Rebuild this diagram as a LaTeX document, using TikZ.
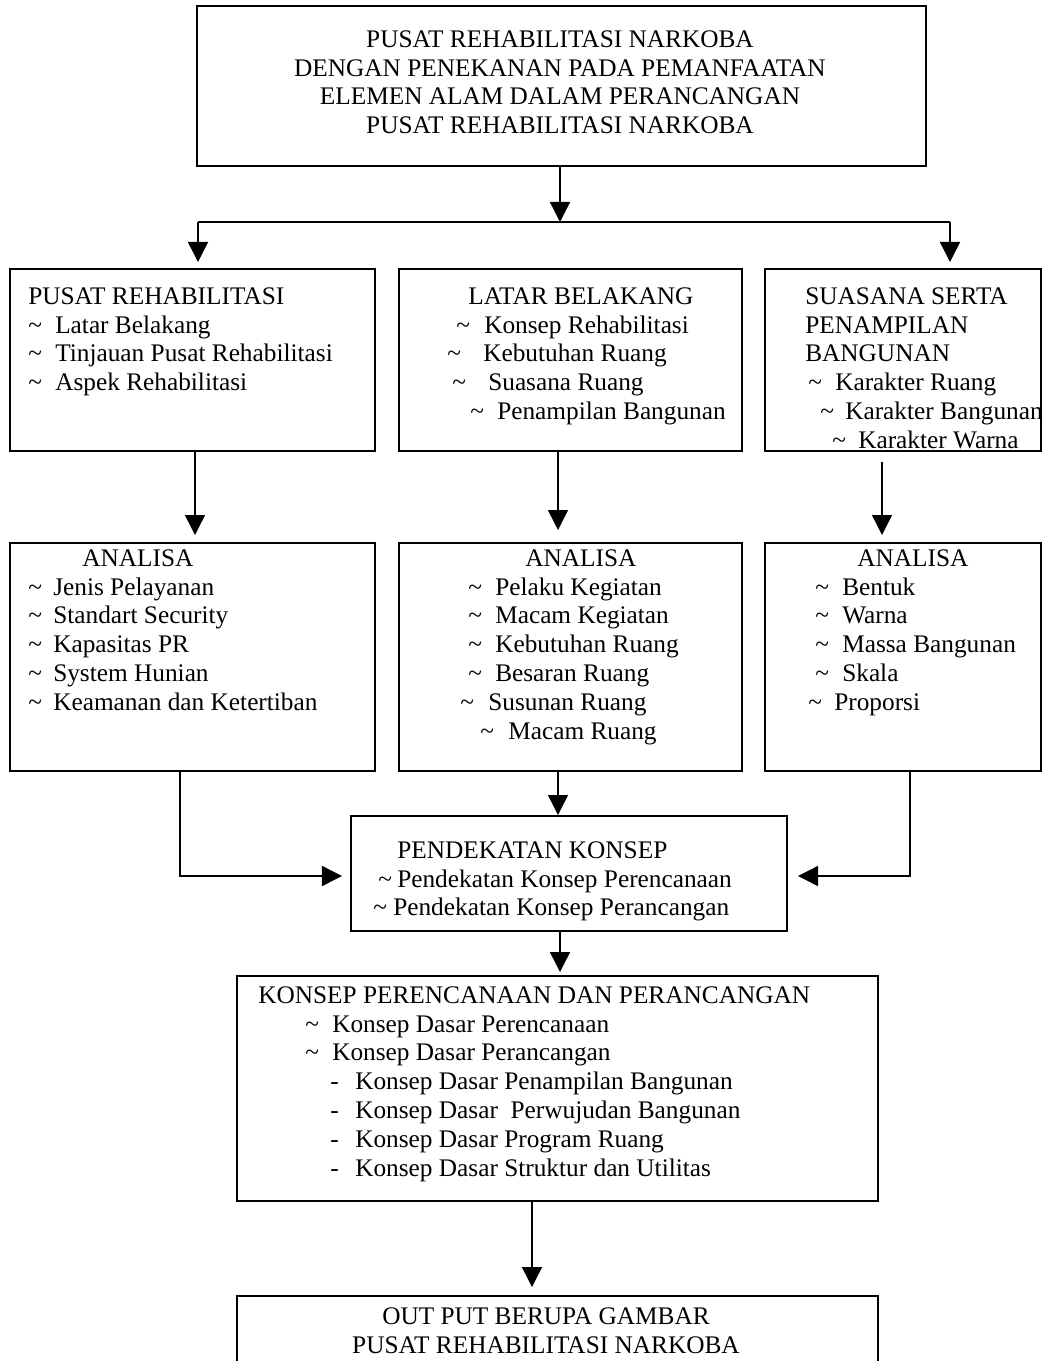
\documentclass[tikz,border=0pt]{standalone}
\usepackage{fontspec}
\setmainfont{Liberation Serif}
\usepackage{tikz}
\usetikzlibrary{arrows.meta,positioning}
\newcommand{\tld}[1][0.675cm]{\makebox[#1][l]{\textasciitilde}}
\newcommand{\dsh}{\makebox[0.625cm][l]{-}}

\begin{document}
\begin{tikzpicture}[
    x=0.025cm, y=-0.025cm,
    box/.style={draw, line width=1.2pt, rectangle, inner sep=0pt, anchor=north west},
    txt/.style={inner sep=0pt, align=left, anchor=north west, font=\fontsize{18}{20.6}\selectfont},
    arr/.style={draw, line width=1pt, -{Triangle[length=0.5cm, width=0.5cm]}}
]
\useasboundingbox (0,0) rectangle (1043,1361);
\fill[white] (0,0) rectangle (1043,1361);

% kotak
\node[box, minimum width=18.225cm, minimum height=4cm] (judul) at (196,5) {};
\node[box, minimum width=9.125cm, minimum height=4.55cm] (pusat) at (9,268) {};
\node[box, minimum width=8.575cm, minimum height=4.55cm] (latar) at (398,268) {};
\node[box, minimum width=6.9cm, minimum height=4.55cm] (suasana) at (764,268) {};
\node[box, minimum width=9.125cm, minimum height=5.7cm] (analisaA) at (9,542) {};
\node[box, minimum width=8.575cm, minimum height=5.7cm] (analisaB) at (398,542) {};
\node[box, minimum width=6.9cm, minimum height=5.7cm] (analisaC) at (764,542) {};
\node[box, minimum width=10.9cm, minimum height=2.875cm] (pendekatan) at (350,815) {};
\node[box, minimum width=16.025cm, minimum height=5.625cm] (konsep) at (236,975) {};
\node[box, minimum width=16.025cm, minimum height=2.5cm] (output) at (236,1295) {};

% teks
\node[txt, align=center, anchor=north] (judulT) at (560,30)
    {PUSAT REHABILITASI NARKOBA\\ DENGAN PENEKANAN PADA PEMANFAATAN\\
     ELEMEN ALAM DALAM PERANCANGAN\\ PUSAT REHABILITASI NARKOBA};
\node[txt] (pusatT) at (28,287)
    {PUSAT REHABILITASI\\ \tld Latar Belakang\\ \tld Tinjauan Pusat Rehabilitasi\\
     \tld Aspek Rehabilitasi};
\node[txt] (latarT) at (447,287)
    {\hspace*{0.525cm}LATAR BELAKANG\\ \hspace*{0.225cm}\tld[0.7cm]Konsep Rehabilitasi\\
     \tld[0.9cm]Kebutuhan Ruang\\ \hspace*{0.125cm}\tld[0.9cm]Suasana Ruang\\
     \hspace*{0.575cm}\tld Penampilan Bangunan};
\node[txt] (suasanaT) at (805,287)
    {SUASANA SERTA\\ PENAMPILAN\\ BANGUNAN\\ \hspace*{0.075cm}\tld Karakter Ruang\\
     \hspace*{0.375cm}\tld[0.625cm]Karakter Bangunan\\ \hspace*{0.675cm}\tld[0.65cm]Karakter Warna};
\node[txt] (analisaAT) at (28,549)
    {\hspace*{1.35cm}ANALISA\\ \tld[0.625cm]Jenis Pelayanan\\ \tld[0.625cm]Standart Security\\
     \tld[0.625cm]Kapasitas PR\\ \tld[0.625cm]System Hunian\\ \tld[0.625cm]Keamanan dan Ketertiban};
\node[txt] (analisaBT) at (460,549)
    {\hspace*{1.625cm}ANALISA\\ \hspace*{0.2cm}\tld Pelaku Kegiatan\\ \hspace*{0.2cm}\tld Macam Kegiatan\\
     \hspace*{0.2cm}\tld Kebutuhan Ruang\\ \hspace*{0.2cm}\tld Besaran Ruang\\
     \tld[0.7cm]Susunan Ruang\\ \hspace*{0.5cm}\tld[0.7cm]Macam Ruang};
\node[txt] (analisaCT) at (808,549)
    {\hspace*{1.225cm}ANALISA\\ \hspace*{0.175cm}\tld Bentuk\\ \hspace*{0.175cm}\tld Warna\\
     \hspace*{0.175cm}\tld Massa Bangunan\\ \hspace*{0.175cm}\tld Skala\\ \tld[0.65cm]Proporsi};
\node[txt] (pendekatanT) at (373,841)
    {\hspace*{0.6cm}PENDEKATAN KONSEP\\ \hspace*{0.125cm}\tld[0.475cm]Pendekatan Konsep Perencanaan\\
     \tld[0.5cm]Pendekatan Konsep Perancangan};
\node[txt] (konsepT) at (258,986)
    {KONSEP PERENCANAAN DAN PERANCANGAN\\ \hspace*{1.175cm}\tld Konsep Dasar Perencanaan\\
     \hspace*{1.175cm}\tld Konsep Dasar Perancangan\\ \hspace*{1.8cm}\dsh Konsep Dasar Penampilan Bangunan\\
     \hspace*{1.8cm}\dsh Konsep Dasar\ \ Perwujudan Bangunan\\ \hspace*{1.8cm}\dsh Konsep Dasar Program Ruang\\
     \hspace*{1.8cm}\dsh Konsep Dasar Struktur dan Utilitas};
\node[txt, align=center, anchor=north] (outputT) at (546,1307)
    {OUT PUT BERUPA GAMBAR\\ PUSAT REHABILITASI NARKOBA};

% panah
\coordinate (cabang) at (560,222);
\coordinate (cabangL) at (198,222);
\coordinate (cabangR) at (950,222);
\draw[arr] (judul.south -| cabang) -- (cabang);
\draw[line width=1pt] (cabangL) -- (cabangR);
\draw[arr] (cabangL) -- (198,262);
\draw[arr] (cabangR) -- (950,262);
\draw[arr] (pusat.south -| 195,0) -- (195,535);
\draw[arr] (latar.south -| 558,0) -- (558,530);
\draw[arr] (882,462) -- (882,535);
\draw[arr] (analisaA.south -| 180,0) |- (342,876);
\draw[arr] (analisaB.south -| 558,0) -- (pendekatan.north -| 558,0);
\draw[arr] (analisaC.south -| 910,0) |- (798,876);
\draw[arr] (pendekatan.south -| 560,0) -- (560,972);
\draw[arr] (konsep.south -| 532,0) -- (532,1287);
\end{tikzpicture}
\end{document}
